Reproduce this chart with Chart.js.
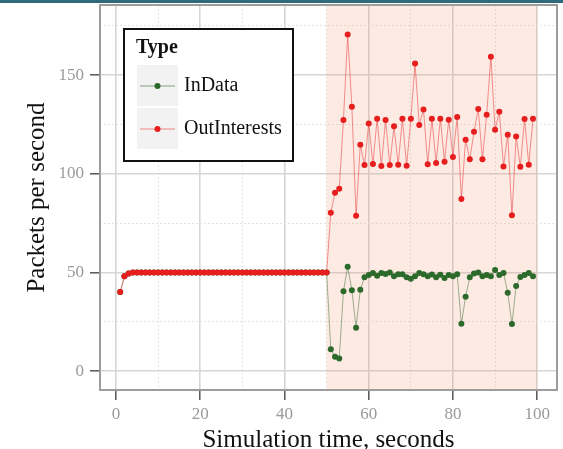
<!DOCTYPE html>
<html>
<head>
<meta charset="utf-8">
<script src="https://cdn.jsdelivr.net/npm/chart.js@4/dist/chart.umd.min.js"></script>
<style>
    body { margin: 0; background: #fff; }
    #wrap { position: relative; width: 563px; height: 449px; }
    #topBand { position: absolute; left: 0; top: 0; width: 563px; height: 3px; background: #2f6b7b; }
</style>
</head>
<body>
<div id="wrap">
    <canvas id="packetsChart" width="563" height="449"></canvas>
    <div id="topBand"></div>
</div>
<script>
// Thời gian mô phỏng (giây)
const timeSec = [
    1, 2, 3, 4, 5, 6, 7, 8, 9, 10, 11, 12, 13, 14, 15, 16, 17, 18, 19, 20,
    21, 22, 23, 24, 25, 26, 27, 28, 29, 30, 31, 32, 33, 34, 35, 36, 37, 38, 39, 40,
    41, 42, 43, 44, 45, 46, 47, 48, 49, 50, 51, 52, 53, 54, 55, 56, 57, 58, 59, 60,
    61, 62, 63, 64, 65, 66, 67, 68, 69, 70, 71, 72, 73, 74, 75, 76, 77, 78, 79, 80,
    81, 82, 83, 84, 85, 86, 87, 88, 89, 90, 91, 92, 93, 94, 95, 96, 97, 98, 99
];

const inData = [
    40, 48, 49.5, 50, 50, 50, 50, 50, 50, 50, 50, 50, 50, 50, 50, 50, 50, 50, 50, 50,
    50, 50, 50, 50, 50, 50, 50, 50, 50, 50, 50, 50, 50, 50, 50, 50, 50, 50, 50, 50,
    50, 50, 50, 50, 50, 50, 50, 50, 50, 50,
    11, 7.3, 6.4, 40.5, 52.9, 41, 22, 41.2, 47.5, 48.7,
    49.7, 48.3, 49.7, 49.2, 49.9, 48.1, 49, 49, 47.5, 46.8,
    48.1, 49.7, 49, 48.1, 48.9, 47.5, 48.8, 47.1, 48.7, 48.1,
    49, 24, 37.7, 47.5, 49.5, 50, 48.1, 48.7, 48.1, 51.2,
    48.7, 49.7, 39.7, 23.8, 43.1, 47.6, 48.7, 49.7, 48.1
];

const outInterests = [
    40, 48, 49.5, 50, 50, 50, 50, 50, 50, 50, 50, 50, 50, 50, 50, 50, 50, 50, 50, 50,
    50, 50, 50, 50, 50, 50, 50, 50, 50, 50, 50, 50, 50, 50, 50, 50, 50, 50, 50, 50,
    50, 50, 50, 50, 50, 50, 50, 50, 50, 50,
    80.2, 90.4, 92.4, 127.2, 170.6, 134, 78.7, 114.7, 104.4, 125.5,
    104.9, 127.9, 103.9, 127.2, 104.4, 124, 104.6, 127.9, 104, 127.9,
    155.8, 124.7, 132.6, 104.8, 127.9, 105.4, 127.9, 106.1, 127.4, 108.5,
    128.7, 87.2, 117.2, 107.3, 121.3, 132.8, 107.3, 129.9, 159.3, 122.3,
    131.4, 103.7, 119.8, 78.9, 118.8, 103.5, 127.7, 104.6, 127.9
];

const xTicks = [0, 10, 20, 30, 40, 50, 60, 70, 80, 90, 100];
const yTicks = [0, 25, 50, 75, 100, 125, 150, 175];
const xLabelStep = 20;
const yLabelStep = 50;

// Vùng tô nền (giây 50 -> 100)
const shadeRange = [50, 100];

const SERIF = '"Liberation Serif", "DejaVu Serif", serif';
const GREEN = '#2b6a2b';
const RED = '#e61e1e';

function toPoints(values) {
    return timeSec.map((t, i) => ({ x: t, y: values[i] }));
}

const shadePlugin = {
    id: 'shade',
    beforeDatasetsDraw(chart) {
        const { ctx, chartArea, scales } = chart;
        const x0 = scales.x.getPixelForValue(shadeRange[0]);
        const x1 = scales.x.getPixelForValue(shadeRange[1]);
        ctx.save();
        ctx.fillStyle = 'rgba(240, 140, 100, 0.18)';
        ctx.fillRect(x0, chartArea.top, x1 - x0, chartArea.bottom - chartArea.top);
        ctx.strokeStyle = '#9d9d9d';
        ctx.lineWidth = 2;
        ctx.strokeRect(chartArea.left, chartArea.top, chartArea.right - chartArea.left, chartArea.bottom - chartArea.top);
        ctx.restore();
    }
};

// Chú thích kiểu ggplot
const legendPlugin = {
    id: 'boxLegend',
    afterDraw(chart) {
        const ctx = chart.ctx;
        const items = [
            { label: 'InData', color: GREEN, line: 'rgba(60, 110, 50, 0.6)' },
            { label: 'OutInterests', color: RED, line: 'rgba(235, 60, 60, 0.6)' }
        ];
        ctx.save();
        ctx.fillStyle = '#fff';
        ctx.fillRect(124, 29, 169, 132);
        ctx.strokeStyle = '#111';
        ctx.lineWidth = 2;
        ctx.strokeRect(124, 29, 169, 132);

        ctx.fillStyle = '#111';
        ctx.textBaseline = 'middle';
        ctx.textAlign = 'left';
        ctx.font = 'bold 20px ' + SERIF;
        ctx.fillText('Type', 136, 48);

        items.forEach((it, i) => {
            const top = 65 + i * 43;
            const cy = top + 21;
            ctx.fillStyle = '#f2f2f2';
            ctx.fillRect(137, top, 41, 41);
            ctx.strokeStyle = it.line;
            ctx.lineWidth = 1;
            ctx.beginPath();
            ctx.moveTo(140, cy);
            ctx.lineTo(175, cy);
            ctx.stroke();
            ctx.fillStyle = it.color;
            ctx.beginPath();
            ctx.arc(157.5, cy, 3, 0, Math.PI * 2);
            ctx.fill();
            ctx.fillStyle = '#111';
            ctx.font = '20px ' + SERIF;
            ctx.fillText(it.label, 184, cy);
        });
        ctx.restore();
    }
};

function gridColor(ctx, step) {
    if (!ctx.tick) return '#d6d6d6';
    return ctx.tick.value % step === 0 ? '#d6d6d6' : '#e4e4e4';
}

const ctx = document.getElementById('packetsChart').getContext('2d');
const packetsChart = new Chart(ctx, {
    type: 'line',
    data: {
        datasets: [
            {
                label: 'OutInterests',
                data: toPoints(outInterests),
                borderColor: 'rgba(235, 60, 60, 0.55)',
                backgroundColor: RED,
                pointBackgroundColor: RED,
                pointBorderColor: RED,
                borderWidth: 1,
                pointRadius: 3,
                pointBorderWidth: 0,
                tension: 0,
                order: 1
            },
            {
                label: 'InData',
                data: toPoints(inData),
                borderColor: 'rgba(60, 110, 50, 0.5)',
                backgroundColor: GREEN,
                pointBackgroundColor: GREEN,
                pointBorderColor: GREEN,
                borderWidth: 1,
                pointRadius: 3,
                pointBorderWidth: 0,
                tension: 0,
                order: 2
            }
        ]
    },
    options: {
        responsive: false,
        animation: false,
        layout: {
            padding: { top: 5, right: 6, left: 0, bottom: 0 }
        },
        scales: {
            x: {
                type: 'linear',
                min: -3.8,
                max: 104.7,
                afterBuildTicks: function(scale) {
                    scale.ticks = xTicks.map(v => ({ value: v }));
                },
                afterFit: function(scale) {
                    scale.height = 59;
                    scale.paddingLeft = 0;
                    scale.paddingRight = 0;
                },
                grid: {
                    color: c => gridColor(c, xLabelStep),
                    lineWidth: c => (c.tick && c.tick.value % xLabelStep !== 0) ? 1 : 1.6,
                    tickLength: 10,
                    tickWidth: 1.5,
                    tickColor: c => (c.tick && c.tick.value % xLabelStep === 0) ? '#555' : 'rgba(0,0,0,0)'
                },
                border: {
                    display: false,
                    dash: c => (c.tick && c.tick.value % xLabelStep !== 0) ? [2, 2] : []
                },
                ticks: {
                    color: '#999',
                    padding: 4,
                    maxRotation: 0,
                    autoSkip: false,
                    font: { family: SERIF, size: 17 },
                    callback: function(value) {
                        return value % xLabelStep === 0 ? String(value) : '';
                    }
                },
                title: {
                    display: true,
                    text: 'Simulation time, seconds',
                    color: '#111',
                    padding: { top: 0, bottom: 0 },
                    font: { family: SERIF, size: 25, lineHeight: 0.72 }
                }
            },
            y: {
                type: 'linear',
                min: -9.6,
                max: 185.5,
                afterBuildTicks: function(scale) {
                    scale.ticks = yTicks.map(v => ({ value: v }));
                },
                afterFit: function(scale) {
                    scale.width = 100;
                    scale.paddingTop = 0;
                    scale.paddingBottom = 0;
                },
                grid: {
                    color: c => gridColor(c, yLabelStep),
                    lineWidth: c => (c.tick && c.tick.value % yLabelStep !== 0) ? 1 : 1.6,
                    tickLength: 10,
                    tickWidth: 1.5,
                    tickColor: c => (c.tick && c.tick.value % yLabelStep === 0) ? '#555' : 'rgba(0,0,0,0)'
                },
                border: {
                    display: false,
                    dash: c => (c.tick && c.tick.value % yLabelStep !== 0) ? [2, 2] : []
                },
                ticks: {
                    color: '#999',
                    padding: 6,
                    autoSkip: false,
                    font: { family: SERIF, size: 17 },
                    callback: function(value) {
                        return value % yLabelStep === 0 ? String(value) : '';
                    }
                },
                title: {
                    display: true,
                    text: 'Packets per second',
                    color: '#111',
                    padding: { top: 22, bottom: 0 },
                    font: { family: SERIF, size: 25 }
                }
            }
        },
        plugins: {
            legend: { display: false },
            tooltip: { enabled: false }
        }
    },
    plugins: [shadePlugin, legendPlugin]
});
</script>
</body>
</html>
